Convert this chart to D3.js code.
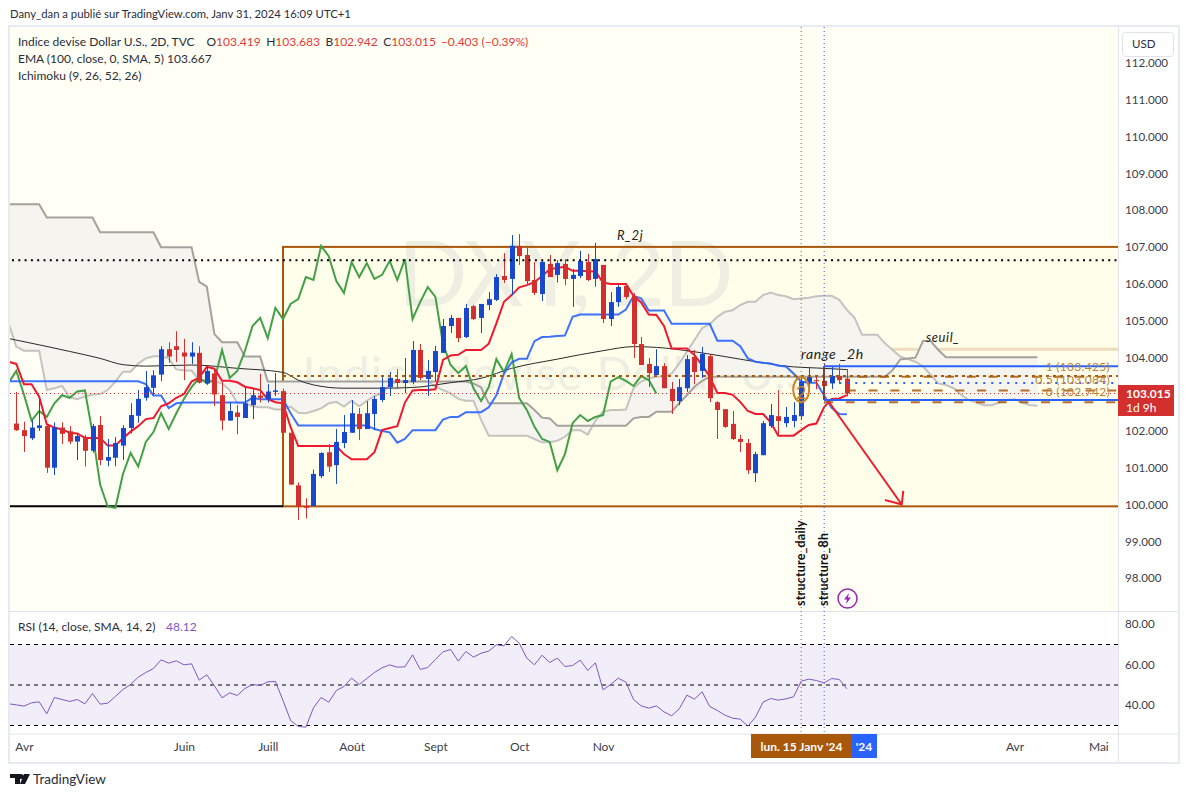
<!DOCTYPE html>
<html>
<head>
<meta charset="utf-8">
<script src="https://cdn.jsdelivr.net/npm/d3@7"></script>
<style>
body { margin: 0; background: #fff; }
text { font-family: Lato, "Noto Sans", sans-serif; font-size: 12px; fill: #2a2e39; }
.axis path, .axis line { display: none; }
.axis text { font-size: 12px; fill: #3c404b; }
.note { font-style: italic; font-size: 13px; fill: #222; letter-spacing: 0.6px; }
.fib { font-size: 12px; fill: #b9823f; text-anchor: end; letter-spacing: 0.3px; }
</style>
</head>
<body>
<script>
// candles, bars 1 to 110
var open = [102.20,102.02,101.80,102.08,102.13,101.00,102.09,101.99,101.71,101.82,
    101.46,102.16,101.19,101.27,101.60,102.08,102.41,102.90,103.17,103.53,
    104.22,104.30,104.13,104.02,104.12,103.29,103.56,102.97,102.28,102.50,
    102.35,102.70,102.96,102.86,103.06,103.08,101.95,100.52,99.96,99.96,
    100.77,101.42,101.07,101.67,101.95,102.46,102.05,102.46,102.84,103.19,
    103.41,103.30,103.33,104.20,103.41,103.60,104.12,104.85,105.07,104.55,
    105.39,105.07,105.42,105.56,106.21,106.13,107.03,106.78,106.10,105.72,
    106.54,106.24,106.54,106.13,106.21,106.59,106.13,106.51,105.04,105.50,
    105.94,105.66,104.36,103.82,103.52,103.76,103.14,102.81,103.16,104.01,
    103.63,104.03,102.78,102.59,102.19,101.78,101.67,100.85,101.34,102.13,
    102.40,102.21,102.27,102.40,103.32,103.38,103.36,103.29,103.49,103.419];
var high = [103.06,102.25,102.29,102.84,102.16,102.23,102.23,102.13,101.93,101.89,
    102.19,102.40,101.78,101.83,102.16,102.75,103.11,103.63,103.65,104.30,
    104.41,104.71,104.50,104.41,104.30,103.77,103.68,103.34,102.78,102.70,
    103.17,103.13,103.55,103.27,103.57,103.15,101.95,100.60,100.17,100.95,
    101.42,101.64,102.05,102.43,102.84,102.62,102.81,102.95,103.46,103.60,
    103.68,103.98,104.44,104.36,103.93,104.31,105.04,105.15,105.07,105.45,
    105.42,105.45,105.77,106.26,106.83,107.32,107.35,106.97,106.59,106.62,
    106.78,106.64,106.67,106.40,106.89,106.81,107.11,106.51,105.77,105.96,
    105.96,105.74,104.55,103.98,104.22,103.84,103.33,103.41,104.06,104.20,
    104.28,104.09,102.81,102.59,102.54,101.89,101.78,101.43,102.27,102.73,
    103.11,102.65,102.78,103.46,103.72,103.52,103.84,103.75,103.82,103.683];
var low = [102.00,101.43,101.75,102.00,100.86,100.80,101.64,101.64,101.21,101.03,
    101.41,101.07,101.04,101.04,101.21,101.93,102.22,102.82,102.97,103.35,
    103.85,103.87,103.38,103.82,103.29,103.25,102.68,102.02,102.28,101.91,
    102.35,102.32,102.77,102.77,102.95,101.95,100.54,99.58,99.62,99.96,
    100.72,100.88,100.56,101.53,101.95,101.75,102.05,102.02,102.78,102.95,
    103.14,103.03,103.27,103.38,102.95,103.35,104.12,104.66,104.41,104.52,
    105.01,104.66,105.28,105.53,106.02,105.69,106.51,105.96,105.69,105.53,
    106.18,106.03,105.96,105.37,106.15,106.07,105.92,104.93,104.85,105.37,
    105.58,103.98,103.79,103.19,103.52,103.16,102.46,102.70,103.06,103.27,
    103.44,102.78,101.78,102.08,101.75,101.43,100.83,100.61,101.34,102.08,
    101.86,102.10,102.10,102.31,103.08,103.13,102.81,103.14,103.27,102.942];
var close = [102.02,101.86,102.09,102.15,101.00,102.09,101.92,101.71,101.86,101.46,
    102.13,101.21,101.29,101.67,102.08,102.43,102.87,103.19,103.51,104.22,
    104.02,104.20,104.02,104.13,103.31,103.63,102.99,102.28,102.54,102.38,
    102.75,102.97,102.90,103.07,103.10,101.95,100.54,99.94,99.91,100.83,
    101.40,101.03,101.70,101.97,102.48,102.05,102.48,102.87,103.19,103.44,
    103.30,103.38,104.20,103.44,103.63,104.17,104.85,105.07,104.52,105.34,
    105.04,105.45,105.58,106.18,106.10,107.03,106.75,106.07,105.75,106.59,
    106.18,106.56,106.13,106.24,106.62,106.10,106.67,105.04,105.50,105.91,
    105.64,104.36,103.79,103.57,103.76,103.16,102.81,103.19,103.95,103.60,
    104.09,102.89,102.57,102.11,101.78,101.70,100.93,101.37,102.21,102.43,
    102.27,102.38,102.43,103.34,103.46,103.36,103.22,103.49,103.38,103.015];

// ichimoku, from bar 0
var tenkan = [103.88,103.82,103.27,103.27,102.93,102.18,102.09,102.04,101.95,101.93,
    101.81,101.81,101.81,101.60,101.60,101.80,101.98,102.13,102.32,102.35,
    102.67,102.75,102.90,103.00,103.34,103.45,103.74,103.69,103.36,103.36,
    103.32,103.20,103.16,103.11,102.86,102.78,102.75,102.10,101.59,101.59,
    101.59,101.59,101.59,101.59,101.37,101.23,101.23,101.23,101.42,102.02,
    102.08,102.13,102.77,103.10,103.11,103.11,103.13,103.93,104.05,104.07,
    104.20,104.20,104.20,104.37,104.92,105.51,105.69,105.90,105.96,106.04,
    106.21,106.39,106.43,106.46,106.35,106.35,106.34,106.33,106.03,105.99,
    105.99,105.99,105.67,105.49,105.16,105.15,104.85,104.24,104.24,104.24,
    104.06,103.79,103.47,103.03,103.03,102.98,102.79,102.54,102.46,102.46,
    102.23,101.87,101.87,101.87,102.02,102.16,102.20,102.64,102.87,102.88,102.97];
var kijun = [103.35,103.35,103.35,103.35,103.35,103.35,103.35,103.35,103.35,103.35,
    103.35,103.35,103.35,103.35,103.35,103.35,103.35,103.35,103.27,102.96,
    102.96,102.62,102.75,102.77,102.77,102.77,102.77,102.77,102.77,102.77,
    102.77,102.77,102.90,102.86,102.86,102.86,102.86,102.48,102.15,102.15,
    102.15,102.15,102.15,102.15,102.15,102.15,102.15,102.15,102.05,102.00,
    101.96,101.68,101.78,102.02,102.02,102.02,102.02,102.31,102.38,102.38,
    102.51,102.51,102.51,102.64,102.97,103.56,103.86,103.96,103.96,104.44,
    104.55,104.56,104.58,104.59,105.10,105.16,105.16,105.16,105.16,105.16,
    105.16,105.30,105.67,105.60,105.27,105.27,105.27,104.91,104.91,104.91,
    104.91,104.91,104.91,104.45,104.45,104.45,104.30,103.97,103.88,103.85,
    103.83,103.77,103.75,103.56,103.34,103.31,103.31,102.97,102.63,102.46,102.45];
// lagging line, also from bar 0
var chikou = [103.31,103.63,102.99,102.28,102.54,102.38,102.75,102.97,102.90,103.07,
    103.10,101.95,100.54,99.94,99.91,100.83,101.40,101.03,101.70,101.97,
    102.48,102.05,102.48,102.87,103.19,103.44,103.30,103.38,104.20,103.44,
    103.63,104.17,104.85,105.07,104.52,105.34,105.04,105.45,105.58,106.18,
    106.10,107.03,106.75,106.07,105.75,106.59,106.18,106.56,106.13,106.24,
    106.62,106.10,106.67,105.04,105.50,105.91,105.64,104.36,103.79,103.57,
    103.76,103.16,102.81,103.19,103.95,103.60,104.09,102.89,102.57,102.11,
    101.78,101.70,100.93,101.37,102.21,102.43,102.27,102.38,102.43,103.34,
    103.46,103.36,103.22,103.49,103.38,103.015];
var spanA = [104.92,104.29,104.18,104.18,104.18,103.11,103.16,103.22,102.91,102.86,
    102.93,102.99,103.00,103.11,103.34,103.61,103.61,103.83,103.97,104.03,
    104.03,103.97,103.67,103.64,103.64,103.38,103.38,103.35,103.29,103.11,
    102.75,102.75,102.67,102.64,102.64,102.58,102.58,102.66,102.49,102.48,
    102.54,102.61,102.75,102.79,102.66,102.82,102.67,102.82,102.95,103.02,
    103.27,103.34,103.34,103.34,103.34,103.34,103.20,103.11,103.02,102.87,
    102.82,102.82,102.30,101.87,101.87,101.87,101.87,101.87,101.87,101.78,
    101.69,101.69,101.73,101.84,102.02,102.02,101.90,102.28,102.52,102.57,
    102.57,102.58,103.16,103.34,103.43,103.47,103.49,103.56,103.83,104.15,
    104.47,104.79,104.90,105.10,105.24,105.28,105.42,105.51,105.51,105.69,
    105.76,105.69,105.66,105.58,105.60,105.62,105.66,105.67,105.67,105.56,
    105.29,105.07,104.61,104.61,104.61,104.38,104.20,104.02,103.95,103.88,
    103.75,103.52,103.29,103.25,103.16,102.98,102.84,102.77,102.70,102.70,
    102.77,102.84,102.86,102.77,102.70,102.68];
var spanB = [108.16,108.16,108.16,108.16,108.16,107.80,107.80,107.80,107.80,107.80,
    107.80,107.80,107.40,107.40,107.40,107.40,107.40,107.40,107.40,107.40,
    106.99,106.99,106.99,106.99,106.99,106.05,105.92,104.63,104.41,104.41,
    104.41,104.02,104.02,104.02,103.34,103.34,103.34,103.34,103.34,103.34,
    103.34,103.34,103.34,103.34,103.34,103.34,103.34,103.34,103.34,103.34,
    103.34,103.34,103.34,103.34,103.34,103.34,103.34,103.34,103.34,103.34,
    103.34,103.29,103.18,102.75,102.75,102.75,102.75,102.75,102.75,102.57,
    102.36,102.34,102.14,102.14,102.14,102.14,102.14,102.14,102.14,102.14,
    102.14,102.14,102.34,102.38,102.38,102.52,102.52,102.52,102.75,102.97,
    103.20,103.36,103.47,103.47,103.47,103.47,103.47,103.47,103.47,103.47,
    103.47,103.47,103.47,103.47,103.47,103.47,103.47,103.47,103.47,103.47,
    103.47,103.47,103.47,103.47,103.47,103.47,103.65,103.94,103.97,103.99,
    104.45,104.44,104.20,104.00,104.00,104.00,104.00,104.00,104.00,104.00,
    104.00,104.00,104.00,104.00,104.00,104.00];

var emaBars = [0,8,12,15,18,24,30,36,38,40,44,49,53,58,62,66,72,78,82,85,90,94,98,103,106,110];
var emaValues = [104.51,104.16,103.97,103.80,103.76,103.79,103.70,103.59,103.38,103.25,
    103.16,103.16,103.18,103.31,103.43,103.70,103.95,104.18,104.29,104.27,
    104.15,104.02,103.88,103.74,103.71,103.667];

var rsi = [40.70,40.21,39.55,41.20,41.69,35.77,43.83,42.84,41.86,42.84,
    40.70,45.80,40.54,41.03,44.32,47.78,50.25,53.87,56.17,58.15,
    62.43,60.78,61.94,59.96,60.45,52.39,55.02,49.59,43.67,46.13,
    44.82,48.27,50.25,49.76,51.57,51.73,42.35,32.47,29.51,29.18,
    38.73,43.83,41.52,47.29,49.26,53.38,50.25,53.21,56.17,58.48,
    59.96,58.81,58.97,64.90,57.66,58.64,62.59,66.38,67.53,61.77,
    66.54,63.75,65.72,66.71,69.84,69.34,73.95,70.66,63.25,59.96,
    64.73,61.11,63.25,59.14,59.63,62.26,57.16,60.95,47.62,50.25,
    53.38,51.40,42.84,39.71,38.56,39.71,36.75,34.78,38.23,44.98,
    43.01,46.63,39.39,37.41,35.11,33.62,33.13,29.67,34.12,41.52,
    43.34,42.51,43.17,44.16,51.89,52.88,52.22,51.07,53.21,52.72,48.12];
var rsiLevels = [70, 50, 30];

// 103 sits under the last price tag in the reference
var priceTicks = [98,99,100,101,102,104,105,106,107,108,109,110,111,112];
var rsiTicks = [40, 60, 80];
var monthBars = [2, 23, 34, 45, 56, 67, 78, 132, 143];
var monthLabels = ["Avr","Juin","Juill","Août","Sept","Oct","Nov","Avr","Mai"];

var width = 1188, height = 797;
var pane = {left: 10, right: 1118, top: 27, bottom: 611};
var rsiPane = {top: 612, bottom: 733};

var brown = "#a9570b", blue = "#2962ff", candleRed = "#d32f2f", candleBlue = "#1848cc";

var x = d3.scaleLinear().domain([0, 145]).range([8.68, 1113.58]);
var y = d3.scaleLinear().domain([100, 112]).range([504.5, 62.9]);
var yRsi = d3.scaleLinear().domain([30, 70]).range([725.5, 644.5]);

var svg = d3.select("body").append("svg")
    .attr("width", width)
    .attr("height", height)
    .style("display", "block");

// frame and backgrounds
svg.append("rect").attr("x", 9).attr("y", 26).attr("width", 1170).attr("height", 737)
    .attr("fill", "#fff").attr("stroke", "#e8eaf1").attr("stroke-width", 2);
svg.append("rect").attr("x", pane.left).attr("y", pane.top)
    .attr("width", pane.right - pane.left).attr("height", pane.bottom - pane.top)
    .attr("fill", "#fffff6");
svg.append("line").attr("x1", 10).attr("x2", 1178).attr("y1", 611.5).attr("y2", 611.5).attr("stroke", "#e0e3eb");
svg.append("line").attr("x1", 10).attr("x2", 1178).attr("y1", 734).attr("y2", 734).attr("stroke", "#e0e3eb");
svg.append("line").attr("x1", 1118.5).attr("x2", 1118.5).attr("y1", 27).attr("y2", 762).attr("stroke", "#e0e3eb");

svg.append("clipPath").attr("id", "clip-main").append("rect")
    .attr("x", pane.left).attr("y", pane.top)
    .attr("width", pane.right - pane.left).attr("height", pane.bottom - pane.top);
svg.append("clipPath").attr("id", "clip-rsi").append("rect")
    .attr("x", pane.left).attr("y", rsiPane.top)
    .attr("width", pane.right - pane.left).attr("height", rsiPane.bottom - rsiPane.top);

var main = svg.append("g").attr("clip-path", "url(#clip-main)");

// drawn box and levels
main.append("rect").attr("x", x(36)).attr("y", y(107))
    .attr("width", pane.right - x(36) + 10).attr("height", y(99.95) - y(107))
    .attr("fill", "#fffeea")
    .attr("stroke", "none");

// watermark
main.append("text").attr("x", 565).attr("y", 306).attr("text-anchor", "middle")
    .style("font-size", "92px").style("letter-spacing", "-1.5px").style("fill", "#efeee2").text("DXY, 2D");
main.append("text").attr("x", 564).attr("y", 390).attr("text-anchor", "middle")
    .style("font-size", "46px").style("letter-spacing", "1.5px").style("fill", "#efeee2").text("Indice devise Dollar U.S.");

main.append("rect").attr("x", x(36)).attr("y", y(107))
    .attr("width", pane.right - x(36) + 10).attr("height", y(99.95) - y(107))
    .attr("fill", "none")
    .attr("stroke", brown).attr("stroke-width", 2);
main.append("line").attr("x1", pane.left).attr("x2", x(36))
    .attr("y1", y(99.95)).attr("y2", y(99.95)).attr("stroke", "#000").attr("stroke-width", 2);
main.append("line").attr("x1", x(92.5)).attr("x2", pane.right)
    .attr("y1", y(104.22)).attr("y2", y(104.22)).attr("stroke", brown).attr("stroke-opacity", 0.2).attr("stroke-width", 3);

// cloud
var cloud = d3.area()
    .x(function(d, i) { return x(i); })
    .y0(function(d) { return y(d); })
    .y1(function(d, i) { return y(spanB[i]); });
main.append("path").datum(spanA).attr("d", cloud).attr("fill", "#f5f4ee");

var priceLine = d3.line()
    .x(function(d, i) { return x(i); })
    .y(function(d) { return y(d); });

main.append("path").datum(spanA).attr("d", priceLine)
    .attr("fill", "none").attr("stroke", "#c4c3c0").attr("stroke-width", 2);
main.append("path").datum(spanB).attr("d", priceLine)
    .attr("fill", "none").attr("stroke", "#a5a29d").attr("stroke-width", 2);

var emaLine = d3.line()
    .x(function(d, i) { return x(emaBars[i]); })
    .y(function(d) { return y(d); })
    .curve(d3.curveMonotoneX);
main.append("path").datum(emaValues).attr("d", emaLine)
    .attr("fill", "none").attr("stroke", "#2a2a2a").attr("stroke-width", 1);

main.append("path").datum(chikou).attr("d", priceLine)
    .attr("fill", "none").attr("stroke", "#43a047").attr("stroke-width", 2);
main.append("path").datum(kijun).attr("d", priceLine)
    .attr("fill", "none").attr("stroke", blue).attr("stroke-width", 2).attr("stroke-opacity", 0.9);
main.append("path").datum(tenkan).attr("d", priceLine)
    .attr("fill", "none").attr("stroke", "#f01830").attr("stroke-width", 2);

// candles
var candles = main.append("g").selectAll("g")
    .data(close)
    .enter()
    .append("g")
    .attr("fill", function(d, i) { return d >= open[i] ? candleBlue : candleRed; })
    .attr("stroke", function(d, i) { return d >= open[i] ? candleBlue : candleRed; });
candles.append("line")
    .attr("x1", function(d, i) { return Math.round(x(i + 1)) + 0.5; })
    .attr("x2", function(d, i) { return Math.round(x(i + 1)) + 0.5; })
    .attr("y1", function(d, i) { return y(high[i]); })
    .attr("y2", function(d, i) { return y(low[i]); });
candles.append("rect")
    .attr("stroke", "none")
    .attr("x", function(d, i) { return Math.round(x(i + 1)) - 2; })
    .attr("width", 5)
    .attr("y", function(d, i) { return y(Math.max(open[i], d)); })
    .attr("height", function(d, i) { return Math.max(1, Math.abs(y(open[i]) - y(d))); });

// dotted levels
main.append("line").attr("x1", 12).attr("x2", pane.right).attr("y1", y(106.64)).attr("y2", y(106.64))
    .attr("stroke", "#000").attr("stroke-width", 2).attr("stroke-dasharray", "2,4.3");
main.append("line").attr("x1", x(36)).attr("x2", pane.right).attr("y1", y(103.49)).attr("y2", y(103.49))
    .attr("stroke", brown).attr("stroke-width", 2).attr("stroke-dasharray", "3,4");
main.append("line").attr("x1", pane.left).attr("x2", pane.right).attr("y1", y(103.015)).attr("y2", y(103.015))
    .attr("stroke", candleRed).attr("stroke-width", 1).attr("stroke-dasharray", "1,3");

// fib block
var fibRight = pane.right;
main.append("line").attr("x1", x(107)).attr("x2", x(107)).attr("y1", y(103.76)).attr("y2", y(102.84))
    .attr("stroke", "#8a3a20").attr("stroke-width", 2);
main.append("line").attr("x1", x(107)).attr("x2", fibRight).attr("y1", y(103.76)).attr("y2", y(103.76))
    .attr("stroke", blue).attr("stroke-width", 2);
main.append("line").attr("x1", x(107)).attr("x2", fibRight).attr("y1", y(102.84)).attr("y2", y(102.84))
    .attr("stroke", blue).attr("stroke-width", 2);
main.append("line").attr("x1", x(109)).attr("x2", fibRight).attr("y1", y(103.30)).attr("y2", y(103.30))
    .attr("stroke", blue).attr("stroke-width", 2).attr("stroke-dasharray", "2,6");
main.append("line").attr("x1", x(111.5)).attr("x2", fibRight).attr("y1", y(103.47)).attr("y2", y(103.47))
    .attr("stroke", brown).attr("stroke-opacity", 0.85).attr("stroke-width", 2).attr("stroke-dasharray", "9,12.7");
main.append("line").attr("x1", x(110)).attr("x2", fibRight).attr("y1", y(103.10)).attr("y2", y(103.10))
    .attr("stroke", brown).attr("stroke-opacity", 0.85).attr("stroke-width", 2).attr("stroke-dasharray", "9,12.7");
main.append("line").attr("x1", x(107)).attr("x2", fibRight).attr("y1", y(102.78)).attr("y2", y(102.78))
    .attr("stroke", brown).attr("stroke-opacity", 0.85).attr("stroke-width", 2).attr("stroke-dasharray", "9,12.7");

main.append("text").attr("class", "fib").attr("x", 1110).attr("y", 371).text("1 (103.425)");
main.append("text").attr("class", "fib").attr("x", 1110).attr("y", 384).text("0.5 (103.084)");
main.append("text").attr("class", "fib").attr("x", 1110).attr("y", 396).text("0 (102.742)");

// wave mark
main.append("ellipse").attr("cx", x(104)).attr("cy", y(103.12)).attr("rx", 8).attr("ry", 12.5)
    .attr("fill", "none").attr("stroke", "#c98526").attr("stroke-width", 2);
main.append("text").attr("x", x(104)).attr("y", y(102.88)).attr("text-anchor", "middle")
    .style("font-size", "18px").style("fill", "#c98526").text("2");

// arrow to the target
var arrowEnd = {x: x(117.2), y: y(100)};
main.append("path")
    .attr("d", "M" + x(107.6) + "," + y(102.8) + "L" + arrowEnd.x + "," + arrowEnd.y
        + "M" + x(117.4) + "," + y(100.37) + "L" + arrowEnd.x + "," + arrowEnd.y + "L" + x(115) + "," + y(100.12))
    .attr("fill", "none").attr("stroke", "#e8202c").attr("stroke-width", 2);

// notes
main.append("text").attr("class", "note").attr("x", 617).attr("y", 240).text("R_2j");
main.append("text").attr("class", "note").attr("x", 926).attr("y", 342).text("seuil_");
main.append("text").attr("class", "note").style("font-size", "14px").attr("x", 801).attr("y", 359).text("range _2h");

// vertical markers, through the price and rsi panes
svg.append("line").attr("x1", x(104)).attr("x2", x(104)).attr("y1", pane.top).attr("y2", rsiPane.bottom)
    .attr("stroke", brown).attr("stroke-dasharray", "1,3");
svg.append("line").attr("x1", x(107.02)).attr("x2", x(107.02)).attr("y1", pane.top).attr("y2", rsiPane.bottom)
    .attr("stroke", blue).attr("stroke-dasharray", "1,3");

svg.append("text").attr("transform", "translate(" + (x(104) + 4) + ",606) rotate(-90)")
    .style("font-size", "12.5px").style("font-weight", "700").style("letter-spacing", "0.2px").style("fill", "#111").text("structure_daily");
svg.append("text").attr("transform", "translate(" + (x(107.02) + 4) + ",606) rotate(-90)")
    .style("font-size", "12.5px").style("font-weight", "700").style("letter-spacing", "0.2px").style("fill", "#111").text("structure_8h");

// lightning mark
svg.append("circle").attr("cx", 847.5).attr("cy", 598.5).attr("r", 9.5)
    .attr("fill", "#fff").attr("stroke", "#9c27b0").attr("stroke-width", 1.5);
svg.append("path").attr("d", "M849,593L844,599.5L847,599.5L846,604L851,597.5L848,597.5Z").attr("fill", "#9c27b0");

// rsi pane
var rsiGroup = svg.append("g").attr("clip-path", "url(#clip-rsi)");
rsiGroup.append("rect").attr("x", pane.left).attr("y", yRsi(70))
    .attr("width", pane.right - pane.left).attr("height", yRsi(30) - yRsi(70))
    .attr("fill", "#7e57c2").attr("fill-opacity", 0.1);
rsiGroup.selectAll(".level")
    .data(rsiLevels)
    .enter()
    .append("line")
    .attr("x1", pane.left).attr("x2", pane.right)
    .attr("y1", function(d) { return yRsi(d); }).attr("y2", function(d) { return yRsi(d); })
    .attr("stroke", "#000").attr("stroke-dasharray", "4,4");
rsiGroup.append("path").datum(rsi)
    .attr("d", d3.line().x(function(d, i) { return x(i); }).y(function(d) { return yRsi(d); }))
    .attr("fill", "none").attr("stroke", "#7e57c2").attr("stroke-width", 1);

// axes
svg.append("g").attr("class", "axis")
    .attr("transform", "translate(1122,0)")
    .call(d3.axisRight(y).tickValues(priceTicks).tickSize(0).tickPadding(3).tickFormat(d3.format(".3f")))
    .selectAll("text").style("font-size", "11.6px");
svg.append("g").attr("class", "axis")
    .attr("transform", "translate(1122,0)")
    .call(d3.axisRight(yRsi).tickValues(rsiTicks).tickSize(0).tickPadding(3).tickFormat(d3.format(".2f")))
    .selectAll("text").style("font-size", "11.6px");
svg.append("g").attr("class", "axis")
    .attr("transform", "translate(0,739)")
    .call(d3.axisBottom(x).tickValues(monthBars).tickSize(0).tickPadding(3)
        .tickFormat(function(d) { return monthLabels[monthBars.indexOf(d)]; }));

// usd button
svg.append("rect").attr("x", 1122.5).attr("y", 32.5).attr("width", 51).attr("height", 24).attr("rx", 3)
    .attr("fill", "#fff").attr("stroke", "#e0e3eb");
svg.append("text").attr("x", 1132).attr("y", 48).style("font-size", "11.5px").text("USD");

// last price tag
svg.append("rect").attr("x", 1118).attr("y", 385).attr("width", 56).attr("height", 31).attr("fill", candleRed);
svg.append("text").attr("x", 1126).attr("y", 398).style("fill", "#fff").style("font-weight", "700").text("103.015");
svg.append("text").attr("x", 1126).attr("y", 412).style("fill", "#fff").text("1d 9h");

// time axis tags
svg.append("rect").attr("x", 851).attr("y", 734).attr("width", 26).attr("height", 24).attr("fill", blue);
svg.append("text").attr("x", 864).attr("y", 751).attr("text-anchor", "middle")
    .style("fill", "#fff").style("font-weight", "700").text("'24");
svg.append("rect").attr("x", 751).attr("y", 734).attr("width", 101).attr("height", 24).attr("fill", brown);
svg.append("text").attr("x", 801.5).attr("y", 751).attr("text-anchor", "middle")
    .style("fill", "#fff").style("font-weight", "700").text("lun. 15 Janv '24");

// header and legends
svg.append("text").attr("x", 10).attr("y", 18).style("font-size", "11.3px")
    .text("Dany_dan a publié sur TradingView.com, Janv 31, 2024 16:09 UTC+1");

var legend = svg.append("text").attr("x", 18).attr("y", 46);
legend.append("tspan").text("Indice devise Dollar U.S., 2D, TVC");
var ohlc = [["O", "103.419"], ["H", "103.683"], ["B", "102.942"], ["C", "103.015"]];
ohlc.forEach(function(p, i) {
    legend.append("tspan").attr("dx", i == 0 ? 12 : 5.5).text(p[0]);
    legend.append("tspan").style("fill", "#e53935").text(p[1]);
});
legend.append("tspan").attr("dx", 5).style("fill", "#e53935").text("−0.403 (−0.39%)");

svg.append("text").attr("x", 18).attr("y", 63).text("EMA (100, close, 0, SMA, 5)  103.667");
svg.append("text").attr("x", 18).attr("y", 80).text("Ichimoku (9, 26, 52, 26)");
svg.append("text").attr("x", 18).attr("y", 631).text("RSI (14, close, SMA, 14, 2)");
svg.append("text").attr("x", 166).attr("y", 631).style("fill", "#7e57c2").text("48.12");

// footer logo
svg.append("path").attr("d", "M10,774H20V784H15V778H10ZM21,774A2.5,2.5 0 1,1 21,779A2.5,2.5 0 1,1 21,774ZM24,774H30L25,784H20Z")
    .attr("fill", "#131722");
svg.append("text").attr("x", 33).attr("y", 784).style("font-size", "13.5px").text("TradingView");
</script>
</body>
</html>
